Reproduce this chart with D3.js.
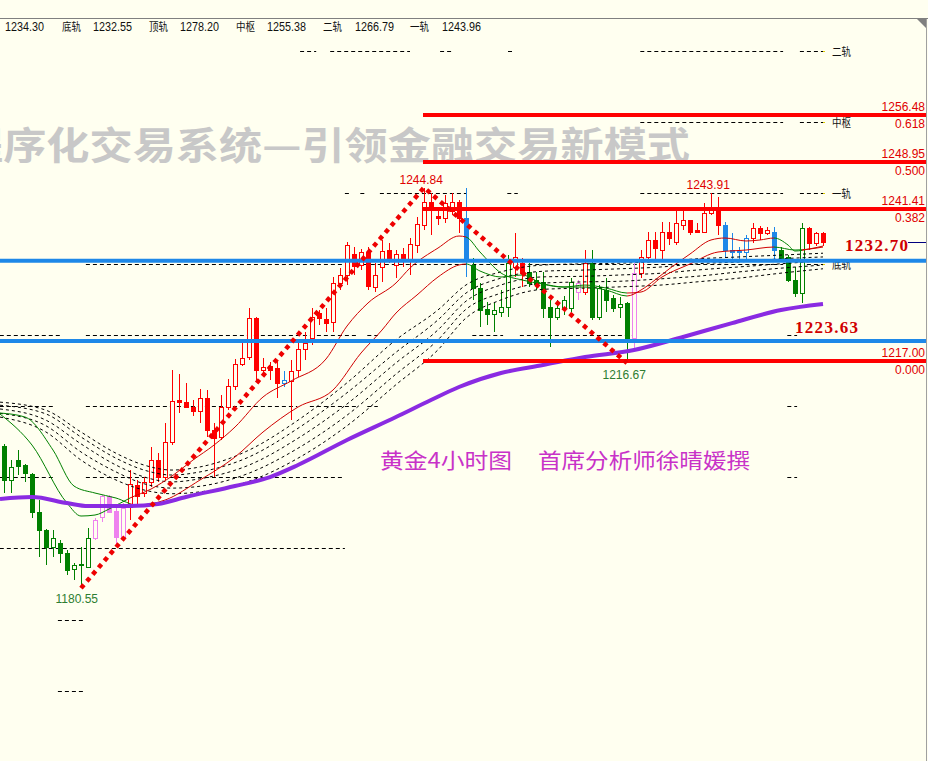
<!DOCTYPE html>
<html><head><meta charset="utf-8">
<script src="https://cdn.jsdelivr.net/npm/d3@7"></script>
<style>body{margin:0;background:#fffff0;overflow:hidden} svg{display:block}</style>
</head><body>
<svg id="c" width="928" height="761"></svg>
<script>
// ---------------- DATA ----------------
const opens  = [1203.3,1197.9,1201.1,1200.3,1198.9,1192.8,1189.9,1187.1,1187.8,1186.2,1183.6,1184.3,1183.9,1188.6,1191.9,1195.3,1192.9,1188.7,1193.6,1197.1,1195.8,1197.6,1201.1,1198.4,1204.0,1210.7,1210.4,1209.6,1209.0,1211.1,1205.9,1204.8,1209.6,1213.0,1216.5,1217.6,1223.9,1215.5,1216.2,1215.9,1213.5,1213.8,1215.5,1218.9,1220.7,1224.7,1223.7,1223.3,1229.5,1230.8,1234.2,1232.4,1234.5,1228.9,1232.1,1234.8,1232.4,1234.2,1233.4,1235.6,1238.8,1242.5,1240.3,1239.9,1241.1,1242.5,1239.9,1232.4,1228.7,1225.3,1224.5,1224.9,1225.7,1232.1,1232.7,1231.3,1230.0,1229.7,1225.7,1224.1,1225.5,1225.5,1228.1,1228.1,1232.7,1224.1,1228.4,1227.1,1225.7,1226.3,1220.7,1231.1,1233.7,1236.4,1234.8,1237.7,1236.1,1238.8,1239.6,1238.0,1237.7,1240.8,1241.7,1238.8,1234.8,1234.5,1234.5,1236.7,1238.3,1237.5,1237.7,1234.8,1233.7,1230.0,1227.9,1238.3,1235.9,1237.5];
const highs  = [1203.7,1201.1,1202.7,1200.5,1199.1,1194.7,1190.1,1189.9,1188.3,1186.7,1184.6,1187.1,1190.2,1191.8,1195.5,1195.5,1193.4,1194.2,1199.5,1197.9,1198.4,1203.2,1202.2,1207.0,1215.5,1214.9,1213.5,1210.7,1212.5,1212.3,1207.0,1211.5,1214.1,1217.3,1219.9,1225.5,1224.0,1217.5,1216.8,1217.2,1215.4,1217.2,1220.4,1221.6,1225.5,1225.2,1225.5,1230.5,1231.9,1236.1,1235.3,1235.0,1235.3,1232.7,1236.4,1235.9,1234.8,1235.1,1236.7,1240.1,1244.84,1243.9,1241.5,1243.6,1243.9,1242.8,1244.7,1233.5,1229.5,1226.5,1226.3,1228.4,1234.0,1237.5,1233.5,1232.7,1231.3,1231.3,1226.8,1226.8,1227.4,1230.3,1230.0,1234.8,1234.8,1229.2,1230.3,1227.6,1227.3,1226.4,1232.7,1234.8,1237.7,1237.7,1239.3,1239.3,1241.7,1241.5,1239.7,1239.1,1242.4,1243.91,1243.3,1239.3,1237.5,1235.3,1237.2,1239.1,1238.7,1238.5,1238.5,1235.3,1234.0,1232.1,1239.1,1238.5,1237.7,1237.7];
const lows   = [1195.8,1195.8,1198.7,1197.6,1191.8,1185.5,1184.2,1185.5,1184.6,1182.6,1181.8,1180.55,1183.8,1188.3,1191.1,1192.6,1187.1,1188.6,1191.5,1193.9,1195.2,1196.8,1197.6,1197.9,1203.5,1208.6,1209.4,1208.2,1207.0,1204.8,1198.4,1204.3,1209.1,1212.3,1216.2,1217.2,1213.9,1215.1,1213.9,1211.0,1212.8,1207.5,1214.4,1217.2,1219.6,1222.8,1221.6,1221.6,1228.4,1229.2,1230.8,1231.6,1228.4,1228.1,1229.7,1232.7,1230.3,1232.1,1230.8,1234.3,1238.0,1237.2,1238.8,1239.1,1240.4,1237.5,1230.5,1226.8,1222.4,1222.8,1221.6,1224.1,1224.1,1230.5,1228.9,1228.9,1228.4,1223.9,1219.2,1223.6,1224.4,1224.9,1226.8,1227.6,1223.6,1223.6,1224.9,1224.9,1223.9,1216.67,1219.1,1230.3,1233.2,1233.2,1233.2,1235.6,1235.6,1238.0,1237.2,1237.5,1237.5,1240.4,1237.2,1233.5,1233.2,1233.2,1233.2,1235.9,1236.4,1237.2,1233.2,1232.9,1229.7,1227.3,1226.3,1234.8,1235.4,1235.4];
const closes = [1197.9,1200.0,1200.1,1199.0,1192.8,1189.9,1187.1,1188.6,1186.2,1183.5,1184.3,1184.4,1188.6,1191.5,1195.3,1192.8,1188.7,1193.4,1197.3,1195.3,1197.6,1201.1,1198.4,1204.0,1210.6,1210.4,1209.6,1209.0,1211.1,1205.9,1204.6,1209.6,1213.0,1216.5,1217.5,1223.9,1215.5,1216.0,1215.5,1213.5,1214.0,1215.4,1218.9,1219.9,1224.1,1223.9,1223.1,1229.5,1230.8,1235.6,1232.2,1234.5,1229.0,1230.8,1234.6,1233.5,1234.2,1233.4,1235.8,1239.0,1242.5,1241.7,1239.9,1242.4,1242.5,1239.9,1233.2,1228.7,1225.2,1224.5,1225.2,1225.7,1232.7,1233.7,1231.1,1229.5,1229.3,1225.5,1224.1,1225.5,1226.8,1229.7,1229.5,1232.7,1224.1,1228.7,1226.8,1225.5,1226.1,1220.7,1231.1,1233.7,1236.4,1235.1,1237.7,1236.7,1239.1,1239.6,1237.7,1237.7,1240.7,1241.7,1238.8,1234.8,1234.5,1234.7,1236.7,1238.3,1237.5,1238.0,1234.8,1233.5,1230.0,1227.9,1238.3,1235.9,1237.5,1236.1];
// trend colour class of every bar: g=green, p=pink, r=red, b=blue
const barTrend = "gggggggggggggppppprrrrrrrrrrrrrrrrrrrrrrbrrrrrrrrrrrrrrrrrrrrrrrrrbggggggrrgggggggprggggggprrrrrrrrrrrrbbbbrrrbggggrrr".split("");

// long moving average (purple)
const maLongIdx = [0,4,9,12,18,22,26,33,38,42,49,56,61,65,71,77,83,90,97,104,111,117];
const maLongVal = [1194.85,1195.17,1194.20,1193.72,1193.72,1194.04,1195.17,1196.93,1198.38,1200.31,1204.32,1208.01,1210.74,1212.83,1215.07,1216.36,1217.64,1218.76,1220.85,1223.09,1225.18,1226.15];
// fast moving average
const maFastIdx = [0,4,9,11,13,15,18,21,24,27,30,33,37,41,46,49,52,56,58,62,65,66,68,71,74,77,80,83,86,89,91,93,95,98,101,103,106,108,110,112,113,115,117];
const maFastVal = [1208.49,1203.51,1194.20,1192.12,1192.28,1193.24,1195.01,1196.45,1198.54,1201.11,1203.51,1206.40,1211.22,1213.79,1217.32,1222.61,1226.31,1229.52,1231.92,1235.13,1237.06,1236.90,1234.49,1231.12,1230.00,1229.36,1228.87,1228.87,1228.39,1227.43,1228.39,1230.00,1231.76,1234.17,1236.42,1236.74,1236.26,1236.42,1236.74,1235.62,1234.65,1234.97,1235.45];
// slow moving average
const maSlowIdx = [0,3,7,10,13,16,19,23,28,33,37,42,47,51,54,56,59,62,65,66,68,71,74,77,80,83,86,89,91,94,98,102,106,110,113,117];
const maSlowVal = [1208.65,1208.01,1202.71,1196.93,1195.81,1195.01,1193.88,1194.68,1197.90,1201.59,1205.60,1209.61,1212.34,1218.28,1221.97,1224.70,1227.59,1230.48,1232.41,1232.57,1231.44,1230.48,1230.80,1229.36,1228.87,1229.19,1228.71,1227.91,1228.07,1230.48,1232.57,1234.49,1234.81,1235.29,1234.81,1235.29];
// colour runs of the two thin averages
const maRuns = [[0,18,"g"],[18,66,"r"],[66,89,"g"],[89,110,"r"],[110,114,"g"],[114,117,"r"]];

// bundle of five dotted averages
const bundleIdx = [0,6,11,16,20,24,28,35,42,49,56,62,66,71,77,83,88,94,99,105,111,117];
const bundle1 = [1210.4,1209.1,1205.6,1202.2,1200.3,1199.5,1200.0,1202.7,1207.5,1213.5,1220.4,1225.2,1229.2,1231.3,1232.4,1232.6,1232.7,1233.0,1233.4,1233.7,1234.0,1234.3];
const bundle2 = [1209.9,1208.5,1204.8,1201.4,1199.5,1198.7,1199.2,1201.6,1206.2,1211.9,1218.4,1223.6,1227.9,1230.3,1231.4,1231.6,1231.8,1232.1,1232.6,1232.9,1233.4,1233.7];
const bundle3 = [1209.3,1207.5,1203.7,1200.3,1198.4,1197.6,1198.1,1200.3,1204.6,1210.1,1216.7,1222.0,1226.6,1229.2,1230.5,1230.6,1230.8,1231.1,1231.6,1232.1,1232.6,1233.1];
const bundle4 = [1208.6,1206.6,1202.4,1199.2,1197.3,1196.6,1196.9,1199.0,1203.0,1208.3,1214.9,1220.4,1225.3,1227.9,1229.5,1229.7,1229.8,1230.2,1230.6,1231.3,1231.9,1232.4];
const bundle5 = [1208.0,1205.6,1201.1,1197.9,1196.3,1195.7,1196.0,1197.7,1201.4,1206.6,1213.2,1218.8,1223.9,1226.8,1228.5,1228.7,1228.9,1229.2,1229.7,1230.3,1231.1,1231.8];

// pivot rails (dashed): [price, fromBar, toBar]
const pivotSegs = [
  [1266.79,42.3,44.6],[1266.79,46.6,58.0],[1266.79,62.3,64.0],[1266.79,72.0,72.6],[1266.79,90.9,111.3],[1266.79,113.7,117.0],
  [1255.38,90.9,111.3],[1255.38,113.7,117.0],
  [1243.96,48.7,49.4],[1243.96,50.9,51.6],[1243.96,53.7,66.1],[1243.96,71.9,73.4],[1243.96,90.9,111.3],[1243.96,113.7,117.0],
  [1232.55,11.7,48.7],[1232.55,50.4,66.1],[1232.55,66.9,90.4],[1232.55,90.9,111.3],[1232.55,113.7,117.0],
  [1221.14,-0.6,8.3],[1221.14,11.7,50.4],[1221.14,51.9,53.4],[1221.14,66.9,71.3],[1221.14,73.7,90.4],[1221.14,111.9,113.3],
  [1209.73,-0.6,7.3],[1209.73,11.7,41.9],[1209.73,43.7,50.4],[1209.73,51.9,53.4],[1209.73,111.9,113.3],
  [1198.32,-0.6,7.3],[1198.32,11.7,48.7],[1198.32,111.9,113.3],
  [1186.91,-0.6,48.7],
  [1175.50,7.7,11.3],
  [1164.09,7.7,11.3]
];
const railNames = ["二轨","中枢","一轨","底轨"];
const railPrices = [1266.79,1255.38,1243.96,1232.55];

// fibonacci levels
const fibPrices = [1256.48,1248.95,1241.41,1217.00];
const fibRatios = ["0.618","0.500","0.382","0.000"];
const fibStartBar = 60;
// support / resistance (blue)
const bluePrices = [1233.1,1220.2];
// zigzag
const zigIdx = [11,60,89];
const zigVal = [1180.55,1244.84,1216.67];

// header
const headerItems = ["1234.30","底轨","1232.55","顶轨","1278.20","中枢","1255.38","二轨","1266.79","一轨","1243.96"];
const watermark = "程序化交易系统—引领金融交易新模式";
const caption1 = "黄金4小时图", caption2 = "首席分析师徐晴媛撰";
const bigLabel1 = "1232.70", bigLabel1Price = 1236.0;
const bigLabel2 = "1223.63", bigLabel2Price = 1222.8;

// ---------------- DRAW ----------------
const W = 928, H = 761, BG = "#fffff0";
const svg = d3.select("#c");
const x = d3.scaleLinear().domain([0,117]).range([4,823]);
const y = d3.scaleLinear().domain([1256.48,1217.00]).range([115,361]);
const col = {g:"#008000", r:"#ff0000", p:"#ee82ee", b:"#1e88e8"};
const maCol = {g:"#008000", r:"#d00000"};

svg.append("rect").attr("width",W).attr("height",H).attr("fill",BG);

// watermark (cut at the left edge as in the original)
svg.append("text").attr("x",-40).attr("y",159).text(watermark)
  .attr("font-family","'Noto Sans CJK SC'").attr("font-weight",700).attr("font-size",38)
  .attr("textLength",730).attr("lengthAdjust","spacingAndGlyphs").attr("fill","#c8c8c8");

// header strip
svg.append("line").attr("x1",0).attr("x2",W).attr("y1",18.5).attr("y2",18.5).attr("stroke","#808080");
svg.append("polygon").attr("points","917,19 927,19 927,29").attr("fill","#808080");
svg.append("line").attr("x1",926.5).attr("x2",926.5).attr("y1",19).attr("y2",H).attr("stroke","#a0a0a0");
const headerX = [5,62,93,149,180,236,267,323,355,410,442];
headerItems.forEach((t,i)=>{
  const cjk = /[\u4e00-\u9fff]/.test(t);
  const el = svg.append("text").attr("x",headerX[i]).attr("y",31).text(t)
    .attr("font-family", cjk ? "'Noto Sans CJK SC'" : "'Liberation Sans'")
    .attr("font-size", cjk ? 11 : 12).attr("fill","#111");
  if (cjk) el.attr("textLength",19).attr("lengthAdjust","spacingAndGlyphs");
  else el.attr("textLength",39).attr("lengthAdjust","spacingAndGlyphs");
});

const clip = svg.append("defs").append("clipPath").attr("id","plot");
clip.append("rect").attr("x",0).attr("y",19).attr("width",926).attr("height",H-19);
const g = svg.append("g").attr("clip-path","url(#plot)");

// pivot dashed segments
g.selectAll("line.piv").data(pivotSegs).join("line").attr("class","piv")
  .attr("x1",d=>x(d[1])).attr("x2",d=>x(d[2]))
  .attr("y1",d=>Math.round(y(d[0]))+0.5).attr("y2",d=>Math.round(y(d[0]))+0.5)
  .attr("stroke","#000").attr("stroke-width",1).attr("stroke-dasharray","4 3");
railNames.forEach((n,i)=>{
  g.append("rect").attr("x",x(117)).attr("y",Math.round(y(railPrices[i]))).attr("width",2).attr("height",1).attr("fill","#e0d000");
  g.append("text").attr("x",832).attr("y",y(railPrices[i])+5).text(n)
    .attr("font-family","'Noto Sans CJK SC'").attr("font-size",11).attr("textLength",19)
    .attr("lengthAdjust","spacingAndGlyphs").attr("fill","#111");
});

// candles
const idx = d3.range(opens.length);
const cg = g.append("g").attr("shape-rendering","crispEdges");
cg.selectAll("line.wick").data(idx).join("line").attr("class","wick")
  .attr("x1",i=>Math.round(x(i))+0.5).attr("x2",i=>Math.round(x(i))+0.5)
  .attr("y1",i=>y(highs[i])).attr("y2",i=>y(lows[i]))
  .attr("stroke",i=>col[barTrend[i]]);
cg.selectAll("rect.body").data(idx).join("rect").attr("class","body")
  .each(function(i){
    const up = closes[i] >= opens[i];
    const top = y(Math.max(opens[i],closes[i])), bot = y(Math.min(opens[i],closes[i]));
    const cx = Math.round(x(i));
    const s = d3.select(this);
    if (up) {
      s.attr("x",cx-2+0.5).attr("y",Math.round(top)+0.5).attr("width",4)
       .attr("height",Math.max(1,Math.round(bot)-Math.round(top)))
       .attr("fill",BG).attr("stroke",col[barTrend[i]]);
    } else {
      s.attr("x",cx-2).attr("y",Math.round(top)).attr("width",5)
       .attr("height",Math.max(1,Math.round(bot)-Math.round(top)+1))
       .attr("fill",col[barTrend[i]]);
    }
  });

// dotted bundle
const bundleLine = d3.line().x((d,k)=>bundleIdx[k]===0?0:x(bundleIdx[k])).y(d=>y(d)).curve(d3.curveMonotoneX);
[bundle1,bundle2,bundle3,bundle4,bundle5].forEach(b=>{
  g.append("path").attr("d",bundleLine(b)).attr("fill","none")
   .attr("stroke","#000").attr("stroke-width",1).attr("stroke-dasharray","3 3");
});

// thin averages coloured by trend
const defs = svg.select("defs");
maRuns.forEach((r,k)=>{
  const x0 = k===0 ? 0 : x(r[0]);
  const x1 = k===maRuns.length-1 ? x(r[1])+3 : x(r[1]);
  defs.append("clipPath").attr("id","run"+k).append("rect")
    .attr("x",x0).attr("y",0).attr("width",x1-x0).attr("height",H);
  [[maFastIdx,maFastVal],[maSlowIdx,maSlowVal]].forEach(([ii,vv])=>{
    const ln = d3.line().x((d,j)=>ii[j]===0?0:x(ii[j])).y(d=>y(d)).curve(d3.curveMonotoneX);
    g.append("path").attr("d",ln(vv)).attr("fill","none").attr("stroke",maCol[r[2]])
      .attr("stroke-width",1).attr("clip-path",`url(#run${k})`);
  });
});

// purple long average
const longLine = d3.line().x((d,j)=>maLongIdx[j]===0?0:x(maLongIdx[j])).y(d=>y(d)).curve(d3.curveMonotoneX);
g.append("path").attr("d",longLine(maLongVal)).attr("fill","none")
  .attr("stroke","#8a2be2").attr("stroke-width",4).attr("stroke-linejoin","round");

// blue lines
g.selectAll("line.blue").data(bluePrices).join("line").attr("class","blue")
  .attr("x1",0).attr("x2",W).attr("y1",d=>y(d)).attr("y2",d=>y(d))
  .attr("stroke","#1e88e8").attr("stroke-width",4);

// fib lines
g.selectAll("line.fib").data(fibPrices).join("line").attr("class","fib")
  .attr("x1",x(fibStartBar)-1).attr("x2",W).attr("y1",d=>y(d)).attr("y2",d=>y(d))
  .attr("stroke","#ff0000").attr("stroke-width",4);
fibPrices.forEach((p,i)=>{
  svg.append("text").attr("x",925).attr("y",y(p)-4).attr("text-anchor","end").text(p.toFixed(2))
    .attr("font-family","'Liberation Sans'").attr("font-size",12).attr("fill","#e00000");
  svg.append("text").attr("x",925).attr("y",y(p)+13).attr("text-anchor","end").text(fibRatios[i])
    .attr("font-family","'Liberation Sans'").attr("font-size",12).attr("fill","#e00000");
});

// zigzag dotted
const zz = d3.line().x((d,j)=>x(zigIdx[j])).y(d=>y(d));
g.append("path").attr("d",zz(zigVal)).attr("fill","none").attr("stroke","#ee0000")
  .attr("stroke-width",4.5).attr("stroke-dasharray","4.5 4.5");

// current price marker
svg.append("line").attr("x1",908).attr("x2",926).attr("y1",Math.round(y(closes[117]))+0.5).attr("y2",Math.round(y(closes[117]))+0.5)
  .attr("stroke","#000080");

// extreme labels
const lab = (t,i,p,dy,c)=>svg.append("text").attr("x",x(i)).attr("y",y(p)+dy).attr("text-anchor","middle")
  .text(t).attr("font-family","'Liberation Sans'").attr("font-size",12).attr("fill",c);
lab("1244.84",60-0.4,1244.84,-4,"#e00000");
lab("1243.91",101-0.4,1243.91,-4,"#e00000");
lab("1216.67",89-0.4,1216.67,16,"#2e7d32");
lab("1180.55",11-0.6,1180.55,15,"#2e7d32");

// big labels
svg.append("text").attr("x",845).attr("y",y(bigLabel1Price)+8).text(bigLabel1)
  .attr("font-family","'Liberation Serif'").attr("font-weight",700).attr("font-size",17)
  .attr("textLength",63).attr("lengthAdjust","spacing").attr("fill","#d00000");
svg.append("text").attr("x",795).attr("y",y(bigLabel2Price)+8).text(bigLabel2)
  .attr("font-family","'Liberation Serif'").attr("font-weight",700).attr("font-size",17)
  .attr("textLength",63).attr("lengthAdjust","spacing").attr("fill","#d00000");

// caption
svg.append("text").attr("x",380).attr("y",468).text(caption1)
  .attr("font-family","'Noto Sans CJK SC'").attr("font-size",21).attr("textLength",132)
  .attr("lengthAdjust","spacingAndGlyphs").attr("fill","#c832c8");
svg.append("text").attr("x",538).attr("y",468).text(caption2)
  .attr("font-family","'Noto Sans CJK SC'").attr("font-size",21).attr("textLength",212)
  .attr("lengthAdjust","spacingAndGlyphs").attr("fill","#c832c8");
</script>
</body></html>
